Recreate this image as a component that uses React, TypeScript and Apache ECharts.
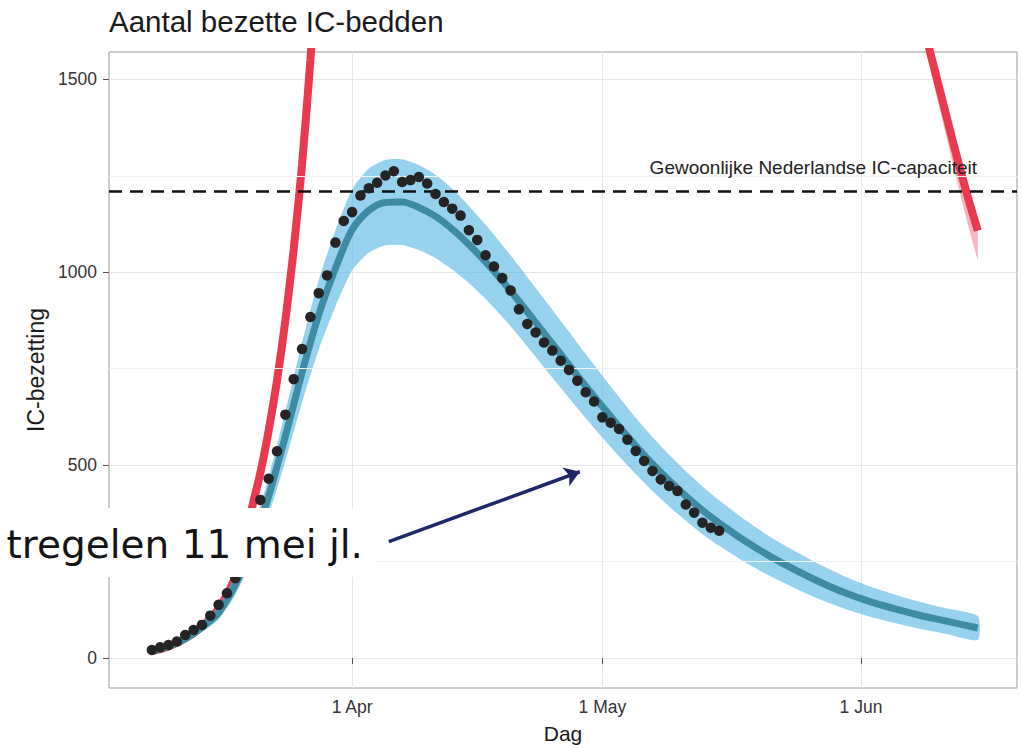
import { useEffect, useRef } from "react";
import * as echarts from "echarts";

// Day numbers: 0 = 1 Mar, 31 = 1 Apr, 61 = 1 May, 92 = 1 Jun
const tickDays = [31, 61, 92];
const tickLabels = ["1 Apr", "1 May", "1 Jun"];
const yTicks = [0, 500, 1000, 1500];
const yMinorGrid = [250, 750, 1250];

// Observed IC occupancy (black dots), one per day from day 7 (8 Mar)
const obsStartDay = 7;
const observed = [
  21, 28, 34, 43, 60, 73, 86, 110, 138, 168,
  207, 265, 335, 410, 465, 536, 631, 723, 801, 884,
  946, 992, 1077, 1133, 1156, 1199, 1218, 1232, 1251, 1262,
  1234, 1239, 1247, 1230, 1203, 1182, 1165, 1147, 1109, 1084,
  1044, 1015, 985, 953, 904, 866, 844, 818, 797, 771,
  747, 719, 689, 665, 624, 610, 594, 566, 537, 511,
  485, 463, 446, 433, 398, 377, 351, 338, 330,
];

// Model fit (blue line) with uncertainty band
const modelDays = [7, 9, 11, 13, 15, 17, 19, 21, 23, 25, 27, 29, 31, 33, 35, 37, 39, 41, 43, 45, 47, 49, 51, 53, 55, 57, 59, 61, 63, 65, 67, 69, 71, 73, 75, 78, 81, 84, 87, 90, 93, 96, 99, 102, 106];
const modelMean = [18, 30, 50, 80, 118, 190, 290, 420, 575, 740, 890, 1010, 1110, 1160, 1181, 1182, 1168, 1145, 1112, 1072, 1027, 978, 925, 870, 815, 760, 705, 652, 600, 550, 503, 460, 420, 383, 350, 305, 265, 230, 198, 170, 147, 128, 111, 97, 78];
const modelUpper = [22, 36, 59, 93, 136, 216, 326, 470, 639, 818, 980, 1109, 1215, 1269, 1292, 1293, 1278, 1253, 1217, 1172, 1123, 1071, 1016, 959, 903, 846, 788, 732, 677, 623, 573, 527, 484, 445, 409, 360, 316, 278, 243, 212, 186, 165, 146, 130, 109];
const modelLower = [14, 24, 41, 67, 100, 164, 254, 370, 511, 662, 800, 911, 1005, 1051, 1070, 1071, 1058, 1037, 1007, 972, 931, 885, 834, 781, 727, 674, 622, 572, 523, 477, 433, 393, 356, 321, 291, 250, 214, 182, 153, 128, 108, 91, 76, 64, 47];

// Scenario without measures (red, left)
const redLeftDays = [7, 9, 11, 13, 15, 17, 18, 19, 20, 21, 22, 23, 24, 25, 26, 27];
const redLeft = [18, 30, 51, 82, 128, 210, 290, 390, 480, 590, 720, 875, 1060, 1280, 1550, 1880];

// Scenario (red, right) with ribbon
const redRightDays = [99, 100, 101, 102, 103, 104, 105, 106];
const redRight = [1680, 1595, 1510, 1425, 1340, 1258, 1180, 1108];
const redRightUpper = [1720, 1635, 1550, 1465, 1378, 1294, 1215, 1140];
const redRightLower = [1640, 1552, 1462, 1372, 1282, 1193, 1108, 1030];

const icCapacity = 1210;
const capacityLabel = "Gewoonlijke Nederlandse IC-capaciteit";

// Annotation arrow (data coordinates) and text
const arrowFrom = [35.4, 302];
const arrowTo = [58.3, 483];
const annotationText = "tregelen 11 mei jl.";

const FONT = "Liberation Sans";

function bandSeries(name: string, days: number[], upper: number[], lower: number[], fill: string, z: number, smooth: number) {
  return {
    name,
    type: "custom",
    z,
    silent: true,
    clip: true,
    data: [[days[0], lower[0]]],
    encode: { x: 0, y: 1 },
    renderItem: (_params: any, api: any) => {
      const pts: number[][] = [];
      for (let i = 0; i < days.length; i++) pts.push(api.coord([days[i], upper[i]]));
      for (let i = days.length - 1; i >= 0; i--) pts.push(api.coord([days[i], lower[i]]));
      return {
        type: "polygon",
        shape: { points: pts, smooth },
        style: { fill },
      };
    },
  };
}

export default function App() {
  const ref = useRef<HTMLDivElement>(null);

  useEffect(() => {
    document.body.style.margin = "0";
    if (!ref.current) return;
    const chart = echarts.init(ref.current, null, { renderer: "svg" });

    const pairs = (xs: number[], ys: number[]) => xs.map((x, i) => [x, ys[i]]);

    const option: any = {
      animation: false,
      backgroundColor: "#ffffff",
      title: {
        text: "Aantal bezette IC-bedden",
        left: 109,
        top: 6,
        padding: 0,
        textStyle: { fontFamily: FONT, fontSize: 29.5, fontWeight: "normal", color: "#1a1a1a" },
      },
      grid: {
        left: 109,
        right: 4,
        top: 52,
        bottom: 59,
        show: true,
        borderColor: "#9a9a9a",
        borderWidth: 1,
        backgroundColor: "transparent",
      },
      xAxis: {
        type: "value",
        min: 1.86,
        max: 110.7,
        name: "Dag",
        nameLocation: "middle",
        nameGap: 35,
        nameTextStyle: { fontFamily: FONT, fontSize: 21, color: "#1a1a1a" },
        axisLine: { show: false },
        axisTick: { show: true, customValues: tickDays, length: 6, lineStyle: { color: "#555" } },
        axisLabel: {
          customValues: tickDays,
          formatter: (v: number) => {
            const i = tickDays.indexOf(Math.round(v));
            return i >= 0 ? tickLabels[i] : "";
          },
          fontFamily: FONT,
          fontSize: 17.5,
          color: "#333",
          margin: 10,
        },
        splitLine: { show: true, lineStyle: { color: "#e6e6e6", width: 1 } },
      },
      yAxis: {
        type: "value",
        min: -77.5,
        max: 1571,
        name: "IC-bezetting",
        nameLocation: "middle",
        nameGap: 61,
        nameTextStyle: { fontFamily: FONT, fontSize: 23, color: "#1a1a1a" },
        axisLine: { show: false },
        axisTick: { show: true, customValues: yTicks, length: 6, lineStyle: { color: "#555" } },
        axisLabel: {
          customValues: yTicks,
          formatter: (v: number) => String(v),
          fontFamily: FONT,
          fontSize: 17.5,
          color: "#333",
          margin: 12,
        },
        splitLine: { show: true, lineStyle: { color: "#e6e6e6", width: 1 } },
      },
      graphic: [
        {
          type: "rect",
          z: 100,
          shape: { x: 0, y: 508, width: 376, height: 69 },
          style: { fill: "#ffffff" },
        },
        {
          type: "text",
          z: 101,
          x: 363,
          y: 544,
          style: {
            text: annotationText,
            font: '39px "DejaVu Sans"',
            fill: "#141414",
            align: "right",
            verticalAlign: "middle",
          },
        },
      ],
      series: [
        {
          name: "minorGrid",
          type: "line",
          data: [],
          z: 1,
          silent: true,
          markLine: {
            silent: true,
            symbol: ["none", "none"],
            label: { show: false },
            lineStyle: { color: "#f1f1f1", width: 1, type: "solid" },
            data: yMinorGrid.map((v) => ({ yAxis: v })),
          },
        },
        {
          name: "redLeft",
          type: "line",
          data: pairs(redLeftDays, redLeft),
          smooth: 0.3,
          symbol: "none",
          z: 2,
          silent: true,
          lineStyle: { color: "#e8394f", width: 8 },
        },
        bandSeries("redRightBand", redRightDays, redRightUpper, redRightLower, "rgba(236, 90, 115, 0.45)", 2, 0),
        {
          name: "redRight",
          type: "line",
          data: pairs(redRightDays, redRight),
          symbol: "none",
          z: 3,
          silent: true,
          lineStyle: { color: "#e8394f", width: 8 },
        },
        bandSeries("band", modelDays, modelUpper, modelLower, "rgba(85, 182, 226, 0.62)", 3, 0.2),
        {
          name: "model",
          type: "line",
          data: pairs(modelDays, modelMean),
          smooth: 0.3,
          symbol: "none",
          z: 4,
          silent: true,
          lineStyle: { color: "#3d8ca3", width: 7 },
        },
        {
          name: "capacity",
          type: "line",
          data: [],
          z: 5,
          silent: true,
          markLine: {
            silent: true,
            symbol: ["none", "none"],
            lineStyle: { color: "#111", width: 2.5, type: [13, 8] },
            label: {
              show: true,
              position: "insideEndTop",
              formatter: capacityLabel,
              fontFamily: FONT,
              fontSize: 19,
              color: "#222",
              distance: [40, 14],
            },
            data: [{ yAxis: icCapacity }],
          },
        },
        {
          name: "arrow",
          type: "line",
          data: [],
          z: 5,
          silent: true,
          markLine: {
            silent: true,
            symbol: ["none", "arrow"],
            symbolSize: 15,
            lineStyle: { color: "#1f276b", width: 3.5, type: "solid" },
            label: { show: false },
            data: [[{ coord: arrowFrom }, { coord: arrowTo }]],
          },
        },
        {
          name: "observed",
          type: "scatter",
          data: observed.map((v, i) => [obsStartDay + i, v]),
          symbolSize: 10.5,
          z: 6,
          silent: true,
          itemStyle: { color: "#242424", opacity: 1 },
        },
      ],
    };

    chart.setOption(option);
    return () => chart.dispose();
  }, []);

  return <div ref={ref} style={{ width: 1021, height: 749 }} />;
}
